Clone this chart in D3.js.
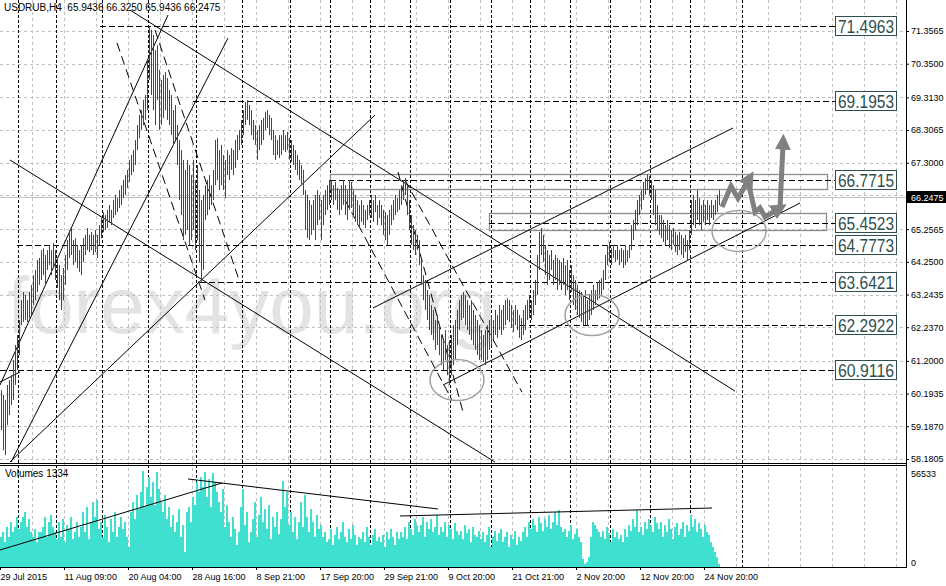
<!DOCTYPE html>
<html><head><meta charset="utf-8">
<script src="https://cdn.jsdelivr.net/npm/d3@7"></script>
<style>body{margin:0;background:#fff;} svg{display:block;} text{font-family:"Liberation Sans",Arial,sans-serif;}</style>
</head><body><svg id="c" width="946" height="586"></svg>
<script>
const symbol = "USDRUB,H4";
const ohlcHeader = [65.9436, 66.3250, 65.9436, 66.2475];
const volumeLabel = "Volumes 1334";
const lastPrice = 66.2475;
const volumeMax = 56533;

const highs = [
60.30,60.15,60.00,60.46,60.61,60.76,61.23,61.69,62.00,62.46,
63.07,63.32,63.23,63.07,63.32,63.54,63.84,64.00,64.31,64.37,
64.61,64.67,64.46,64.61,64.77,64.61,64.83,64.61,64.37,64.15,
63.84,64.06,64.46,64.92,65.23,65.29,64.92,64.98,64.77,64.61,
64.77,64.98,65.08,65.29,65.08,65.17,65.08,65.23,65.08,65.38,
65.60,65.78,65.69,65.85,66.00,65.85,66.15,66.31,66.21,66.46,
66.61,66.77,66.92,67.08,67.39,67.54,67.69,68.00,68.46,68.77,
68.92,69.23,69.39,70.46,71.50,71.40,71.23,70.77,70.92,70.16,
69.85,70.00,70.09,69.91,69.54,69.39,68.92,69.08,68.46,68.00,
67.69,67.39,67.08,67.39,67.23,66.92,67.39,66.77,67.23,66.46,
66.15,66.31,66.61,66.77,66.92,66.61,67.08,68.00,68.06,67.69,
67.85,67.54,67.39,67.69,67.54,67.75,67.69,68.00,68.15,68.31,
68.62,68.92,69.17,69.23,69.08,68.92,68.62,68.46,68.31,68.46,
68.62,68.68,68.87,68.92,68.77,68.68,68.31,68.15,68.00,68.15,
68.15,68.31,68.15,68.25,68.06,68.00,67.85,67.69,67.54,67.39,
67.23,67.08,66.46,66.31,66.15,66.00,66.15,66.31,66.46,66.31,
66.15,66.31,66.46,66.61,66.77,66.77,66.61,66.71,66.52,66.46,
66.61,66.77,66.61,66.46,66.77,66.71,66.46,66.31,66.15,66.00,
66.15,66.00,65.85,66.00,66.15,66.31,66.15,66.31,66.00,66.15,
66.00,65.85,65.78,65.69,65.85,66.00,66.15,66.31,66.21,66.46,
66.61,66.77,66.83,66.61,66.15,65.69,65.38,65.23,65.08,64.92,
64.31,63.84,63.69,63.38,63.23,62.92,62.77,62.46,62.61,62.30,
62.00,61.84,62.15,61.69,61.84,62.00,62.30,62.46,62.77,63.07,
63.23,63.32,63.23,63.07,62.92,63.07,62.77,62.61,62.46,62.30,
62.15,62.00,62.15,62.30,62.46,62.61,62.46,62.77,62.61,62.92,
62.77,62.92,63.07,63.13,63.07,62.92,62.77,62.92,62.77,62.61,
62.52,62.77,62.92,63.07,63.23,63.07,63.38,63.69,64.46,65.17,
65.29,65.08,64.77,64.61,64.46,64.61,64.31,64.46,64.37,64.31,
64.24,64.37,64.15,64.31,64.00,64.15,63.84,63.69,63.54,63.38,
63.32,63.23,63.38,63.07,63.23,63.38,63.54,63.38,63.63,63.69,
63.75,64.00,64.46,64.77,64.86,64.67,64.77,64.61,64.77,64.61,
64.67,64.61,64.77,64.61,64.77,65.38,65.54,65.85,66.15,66.31,
66.46,66.71,66.83,66.95,66.89,66.77,66.61,66.46,66.00,65.69,
65.69,65.54,65.38,65.54,65.38,65.23,65.29,65.17,65.08,65.17,
65.08,64.98,65.08,64.92,65.23,66.15,66.31,66.15,66.46,66.21,
66.00,66.15,66.00,66.15,66.00,66.15,66.00,66.15,66.31,66.46];

const lows = [
59.07,58.45,58.30,59.23,59.53,59.84,60.00,60.46,60.92,61.38,
62.30,62.40,62.46,62.40,62.52,62.61,62.92,63.07,63.32,63.54,
63.69,63.84,63.54,64.00,64.15,63.84,64.06,63.69,63.45,63.07,
62.77,63.07,63.54,64.00,64.37,64.46,64.15,64.24,64.06,63.94,
63.84,64.24,64.46,64.61,64.55,64.61,64.46,64.55,64.37,64.77,
64.98,65.17,65.23,65.29,65.48,65.38,65.60,65.69,65.78,65.91,
66.00,66.21,66.31,66.52,66.71,66.92,67.02,67.23,67.69,68.06,
68.31,68.46,68.62,68.92,69.85,69.39,68.92,68.46,69.23,68.31,
68.46,68.68,68.92,68.62,68.46,68.15,67.85,68.00,67.23,66.15,
65.69,64.92,65.08,65.23,64.77,64.92,65.23,64.61,64.92,64.24,
63.64,64.00,65.54,65.69,65.85,66.00,66.15,66.61,66.77,66.46,
66.61,66.46,66.21,66.92,66.77,67.08,66.92,67.14,67.39,67.69,
67.85,68.15,68.46,68.62,68.46,68.15,68.00,67.85,67.39,67.69,
67.85,68.00,68.31,68.37,68.15,68.00,67.54,67.39,67.54,67.45,
67.54,67.69,67.63,67.69,67.39,67.33,67.23,67.08,66.92,66.77,
66.61,66.31,65.23,64.98,64.92,65.08,65.23,64.92,65.38,65.54,
64.92,65.38,65.69,65.85,66.00,66.15,66.00,66.15,65.85,65.69,
65.85,66.00,65.69,65.54,65.85,65.91,65.69,65.48,65.38,65.29,
65.48,65.38,65.29,65.54,65.69,65.60,65.48,65.78,65.38,65.60,
65.38,65.08,64.92,64.77,65.08,65.38,65.54,65.69,65.78,65.85,
66.00,66.15,66.31,65.69,65.23,64.77,64.61,64.46,64.61,64.15,
63.54,63.07,62.77,62.46,62.15,62.00,61.84,61.54,61.69,61.38,
61.07,60.92,61.23,60.76,60.46,60.76,61.07,61.23,61.69,62.15,
62.46,62.52,62.30,62.15,62.00,61.84,61.69,61.54,61.38,61.23,
61.23,61.17,61.07,61.23,61.54,61.69,61.84,62.00,61.91,62.15,
62.00,62.15,62.30,62.46,62.40,62.21,62.09,62.30,62.15,61.91,
61.84,62.00,62.15,62.46,62.52,62.46,62.61,62.92,63.23,64.00,
64.46,64.24,63.84,63.54,63.69,64.00,63.54,63.69,63.38,63.54,
63.38,63.54,63.23,63.38,63.07,63.32,62.92,62.77,62.61,62.52,
62.40,62.30,62.30,62.27,62.46,62.61,62.77,62.92,63.07,63.13,
63.23,63.38,63.69,64.15,64.24,64.15,64.37,64.24,64.31,64.15,
64.24,64.06,64.15,64.24,64.37,64.61,64.92,65.23,65.38,65.69,
65.85,66.15,66.31,66.46,66.31,66.15,65.69,65.38,65.23,65.08,
64.98,64.86,64.77,64.92,64.67,64.61,64.77,64.55,64.46,64.61,
64.46,64.37,64.55,64.31,64.61,65.08,65.38,65.29,65.54,65.38,
65.23,65.48,65.38,65.54,65.38,65.60,65.54,65.69,65.78,66.00];

const volumes = [
17000,19800,14100,22600,17000,25400,19800,22600,28300,21500,
25400,28300,31100,22600,27100,19800,17000,21500,14100,19800,
19800,22600,28300,17000,25400,29400,22600,19800,15800,25400,
17000,27100,14100,23700,21500,28300,15800,19800,25400,17000,
22600,31100,19800,33900,15800,25400,36700,28300,37900,21500,
25400,17000,29400,22600,14100,27100,19800,31100,17000,22600,
28300,21500,25400,17000,11300,31100,36700,27100,40700,32800,
42400,54200,33900,45200,50900,39600,48000,35000,53700,44100,
36700,31100,40700,27100,33900,22600,29400,19800,25400,32800,
17000,23700,8500,31100,33900,25400,39600,35000,48000,42400,
50900,45200,53700,39600,49700,33900,53100,48000,42400,36700,
31100,44100,22600,35000,25400,17000,28300,21500,12400,19800,
33900,44100,23700,31100,14100,19800,27100,36700,17000,29400,
39600,25400,32800,21500,35000,15800,28300,22600,31100,18600,
27100,48600,33900,42400,23700,31100,19800,28300,15800,25400,
36700,22600,40700,28300,19800,32800,25400,17000,29400,21500,
23700,17000,19800,14100,15800,21500,12400,18100,22600,15800,
19800,25400,17000,14100,21500,15800,23700,18100,12400,17000,
15800,19800,14100,22600,17000,12400,18100,21500,14700,17000,
14100,18100,11300,19800,15800,21500,17000,12400,19800,15800,
19800,17000,22600,15800,25400,21500,18100,27100,23700,19800,
23700,28300,17000,25400,21500,27100,19800,22600,29400,18100,
22600,19800,25400,17000,23700,21500,15800,24900,20300,18100,
20300,15800,23700,19200,21500,14100,22600,18100,17000,20300,
15800,19800,14100,18100,22600,11300,17000,20300,14700,19200,
21500,14100,17000,19800,11300,18100,15800,20300,12400,17000,
14700,19800,22600,17000,25400,21500,27100,23700,19800,28300,
24900,20300,27100,22600,29400,21500,25400,31100,23700,32200,
22600,19800,21500,17000,20300,23700,15800,18600,21500,17000,
14100,4500,1700,2800,5600,17000,25400,23700,21500,19800,
17000,20300,15800,22600,19200,14100,21500,17000,19800,15800,
18100,14100,21500,17000,23700,20300,27100,22600,32200,19800,
22600,18100,25400,21500,27100,23700,19800,28300,24900,21500,
25400,17000,23700,19800,27100,21500,15800,22600,24900,18100,
21500,25400,17000,23700,20300,29400,22600,27100,19800,24900,
21500,17000,23700,19800,18100,14100,11300,8500,5600,1700];

const priceTicks = [71.3565,70.3500,69.3130,68.3065,67.3000,66.2935,65.2565,64.2500,63.2435,62.2370,61.2000,60.1935,59.1870,58.1805];
const dateLabels = ["29 Jul 2015","11 Aug 09:00","20 Aug 04:00","28 Aug 16:00","8 Sep 21:00","17 Sep 20:00","29 Sep 21:00","9 Oct 20:00","21 Oct 21:00","2 Nov 20:00","12 Nov 20:00","24 Nov 20:00"];
const dateLabelBars = [0,32,64,96,128,160,192,224,256,288,320,352];
const weekSeparators = [9,28,51,74,98,121,145,165,185,205,225,245.5,265,285,305,325,345,371];

const levels = [71.4963,69.1953,66.7715,65.4523,64.7773,63.6421,62.2922,60.9116];
const levelStartBars = [50,96.5,165,244.5,8.5,100,260,0];
const zones = [[165,413.5,66.954,66.49],[244.5,413,65.753,65.229]];
const trendLines = [
 [0,60.457,84,71.85],[5.5,58.086,114,71.14],[5,58.09,187.5,68.77],[5,67.385,247.5,58.086],
 [65,72.003,367.5,60.27],[221.5,60.457,400,66.06],[186.5,62.83,366.5,68.37],[0,60.55,10,60.857]];
const dashedLines = [
 [58.5,70.99,102.5,63.07],[77.5,71.387,120,63.60],[199,67.015,231.5,59.63],[172.5,66.153,226,59.995],[202.5,66.769,261,60.24]];
const volumeLines = [[0,9610,111,47490],[94,49750,219,32790],[200,28830,356,33350]];
const circles = [[228.5,60.61],[296,62.61],[369.5,65.20]];
const arrowPaths = [
 [[361,65.94],[365.5,66.58],[369,66.21],[374,66.74]],
 [[374,66.74],[377.5,65.78],[380,65.91],[382.5,65.63],[388.5,65.85]],
 [[390,65.91],[391.5,67.85]]];

const svg = d3.select("#c");
const x = d3.scaleLinear().domain([0,453]).range([0,906]);
const y = d3.scaleLinear().domain([58.057,72.311]).range([463,0]);
const vy = d3.scaleLinear().domain([0,volumeMax]).range([567,467]);

svg.append("rect").attr("width",946).attr("height",586).attr("fill","#fff");
const defs = svg.append("defs");
defs.append("clipPath").attr("id","mainclip").append("rect").attr("x",0).attr("y",0).attr("width",906).attr("height",463);
defs.append("clipPath").attr("id","volclip").append("rect").attr("x",0).attr("y",466).attr("width",906).attr("height",101);
defs.append("marker").attr("id","ah").attr("viewBox","0 0 10 10").attr("refX",3).attr("refY",5)
  .attr("markerWidth",3.2).attr("markerHeight",3.2).attr("orient","auto")
  .append("path").attr("d","M0,0L10,5L0,10z").attr("fill","#808080");

// watermark
svg.append("text").attr("x",7).attr("y",333).attr("font-size",80).attr("fill","#e3e3e3").text("forex4you.org");

// gray grid
const grid = svg.append("g").attr("stroke","#c0c0c0").attr("stroke-dasharray","3,3").attr("stroke-width",1);
grid.selectAll("line.h").data(priceTicks).join("line").attr("x1",0).attr("x2",906)
  .attr("y1",d=>Math.round(y(d))+0.5).attr("y2",d=>Math.round(y(d))+0.5);
const vgrid = d3.range(16,453,16);
grid.selectAll("line.v").data(vgrid).join("line").attr("y1",0).attr("y2",567)
  .attr("x1",d=>x(d)+0.5).attr("x2",d=>x(d)+0.5);

// week separators
svg.append("g").attr("stroke","#000").attr("stroke-dasharray","3,2").selectAll("line").data(weekSeparators).join("line")
  .attr("y1",0).attr("y2",567).attr("x1",d=>Math.round(x(d))+0.5).attr("x2",d=>Math.round(x(d))+0.5);

// bid line
svg.append("line").attr("x1",0).attr("x2",906).attr("y1",Math.round(y(lastPrice))+0.5).attr("y2",Math.round(y(lastPrice))+0.5).attr("stroke","#c0c0c0");

const main = svg.append("g").attr("clip-path","url(#mainclip)");
// zones
main.selectAll("rect.z").data(zones).join("rect")
  .attr("x",d=>x(d[0])+0.5).attr("width",d=>x(d[1])-x(d[0]))
  .attr("y",d=>Math.round(y(d[2]))+0.5).attr("height",d=>Math.round(y(d[3])-y(d[2])))
  .attr("fill","none").attr("stroke","#8c8c8c").attr("stroke-width",1.3);
// level lines
main.selectAll("line.lv").data(levels).join("line")
  .attr("x1",(d,i)=>x(levelStartBars[i])).attr("x2",835)
  .attr("y1",d=>Math.round(y(d))+0.5).attr("y2",d=>Math.round(y(d))+0.5)
  .attr("stroke","#000").attr("stroke-dasharray","6,3");
// trend lines
main.selectAll("line.t").data(trendLines).join("line")
  .attr("x1",d=>x(d[0])).attr("y1",d=>y(d[1])).attr("x2",d=>x(d[2])).attr("y2",d=>y(d[3]))
  .attr("stroke","#000").attr("stroke-width",1);
main.selectAll("line.d").data(dashedLines).join("line")
  .attr("x1",d=>x(d[0])).attr("y1",d=>y(d[1])).attr("x2",d=>x(d[2])).attr("y2",d=>y(d[3]))
  .attr("stroke","#000").attr("stroke-width",1).attr("stroke-dasharray","9,5");
// price bars
main.append("g").attr("stroke","#2f4f4f").attr("stroke-width",1).selectAll("line").data(highs).join("line")
  .attr("x1",(d,i)=>x(i)+1.5).attr("x2",(d,i)=>x(i)+1.5)
  .attr("y1",d=>y(d)).attr("y2",(d,i)=>y(lows[i]));
// circles
main.selectAll("ellipse").data(circles).join("ellipse")
  .attr("cx",d=>x(d[0])).attr("cy",d=>y(d[1])).attr("rx",27).attr("ry",20.5)
  .attr("fill","none").attr("stroke","#a0a0a0").attr("stroke-width",1.5);
// arrows
const aline = d3.line().x(d=>x(d[0])).y(d=>y(d[1]));
main.selectAll("path.ar").data(arrowPaths).join("path").attr("d",aline)
  .attr("fill","none").attr("stroke","#808080").attr("stroke-width",5).attr("stroke-linejoin","miter")
  .attr("marker-end","url(#ah)");

// volume
const vol = svg.append("g").attr("clip-path","url(#volclip)");
vol.append("g").attr("fill","#40e0d0").selectAll("rect").data(volumes).join("rect")
  .attr("x",(d,i)=>x(i)).attr("width",2).attr("y",d=>vy(d)).attr("height",d=>vy(0)-vy(d));
vol.selectAll("line.vl").data(volumeLines).join("line")
  .attr("x1",d=>x(d[0])).attr("y1",d=>vy(d[1])).attr("x2",d=>x(d[2])).attr("y2",d=>vy(d[3]))
  .attr("stroke","#000").attr("stroke-width",1);

// frames
const fr = svg.append("g").attr("stroke","#000").attr("stroke-width",1);
fr.append("line").attr("x1",0).attr("x2",906).attr("y1",463.5).attr("y2",463.5);
fr.append("line").attr("x1",0).attr("x2",906).attr("y1",465.5).attr("y2",465.5);
fr.append("line").attr("x1",0).attr("x2",906).attr("y1",567.5).attr("y2",567.5);
fr.append("line").attr("x1",906.5).attr("x2",906.5).attr("y1",0).attr("y2",568);

// level label boxes
const lb = svg.append("g").selectAll("g").data(levels).join("g")
  .attr("transform",d=>`translate(835,${Math.round(y(d))})`);
lb.append("rect").attr("x",0.5).attr("y",-9.5).attr("width",61).attr("height",19)
  .attr("fill","#fff").attr("stroke","#2f4f4f");
lb.append("text").attr("x",3).attr("y",7).attr("font-size",18.5).attr("fill","#2f4f4f")
  .attr("textLength",56).attr("lengthAdjust","spacingAndGlyphs").text(d=>d.toFixed(4));

// price axis
const ya = svg.append("g").attr("transform","translate(906,0)")
  .call(d3.axisRight(y).tickValues(priceTicks).tickSize(3).tickPadding(2).tickFormat(d3.format(".4f")));
ya.select(".domain").remove();
ya.selectAll("text").attr("font-size",9).attr("font-family","Liberation Sans").attr("fill","#000");
ya.selectAll("line").attr("stroke","#000");
// last price label
const lp = svg.append("g").attr("transform",`translate(906,${Math.round(y(lastPrice))})`);
lp.append("rect").attr("x",0).attr("y",-6).attr("width",40).attr("height",12).attr("fill","#000");
lp.append("text").attr("x",5).attr("y",3.5).attr("font-size",9).attr("fill","#fff").text(lastPrice.toFixed(4));

// volume axis
const va = svg.append("g").attr("transform","translate(906,0)")
  .call(d3.axisRight(vy).tickValues([0,volumeMax]).tickSize(0).tickPadding(5).tickFormat(d3.format("d")));
va.select(".domain").remove();
va.selectAll("text").attr("font-size",9).attr("font-family","Liberation Sans").attr("fill","#000")
  .attr("dy",d=>d===0?"-0.2em":"1.05em");

// time axis
const xa = svg.append("g").attr("transform","translate(0,567)")
  .call(d3.axisBottom(x).tickValues(dateLabelBars).tickSize(3).tickPadding(4).tickFormat((d,i)=>dateLabels[i]));
xa.select(".domain").remove();
xa.selectAll("text").attr("font-size",9).attr("font-family","Liberation Sans").attr("fill","#000").attr("text-anchor","start");
xa.selectAll("line").attr("stroke","#000");

// header
svg.append("text").attr("x",4).attr("y",11).attr("font-size",10).attr("fill","#000")
  .text(symbol + "\u00a0\u00a0" + ohlcHeader.map(v=>v.toFixed(4)).join(" "));
svg.append("text").attr("x",5).attr("y",477).attr("font-size",10).attr("fill","#000").text(volumeLabel);
</script></body></html>
